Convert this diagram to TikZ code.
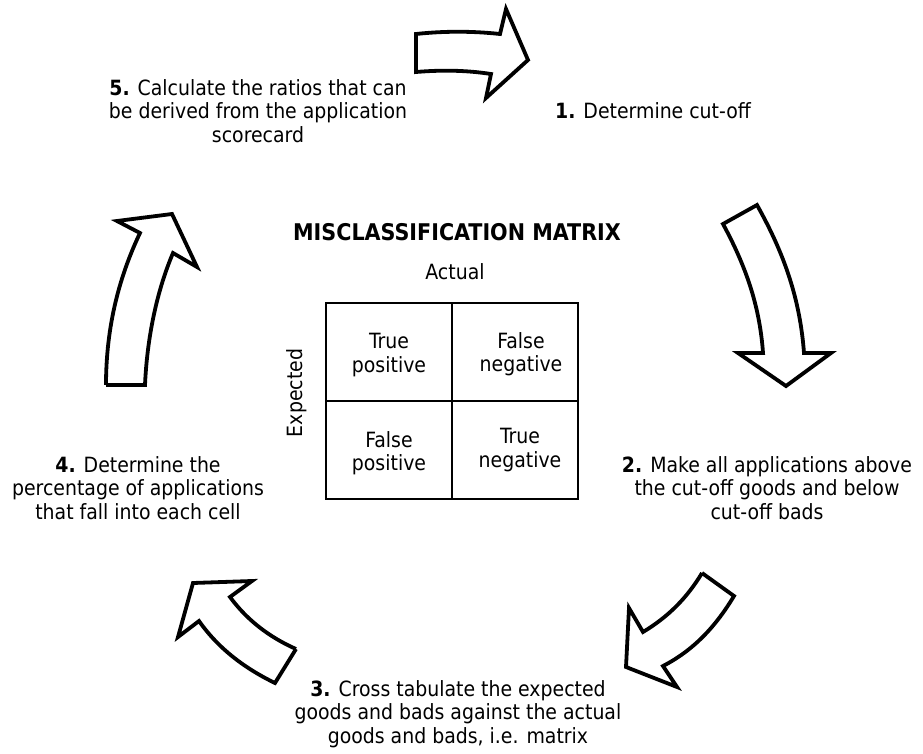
\documentclass[tikz,border=0pt]{standalone}
\usepackage{fontspec}
\setmainfont{DejaVu Sans Condensed}
\begin{document}
\begin{tikzpicture}[x=1pt,y=-1pt,
  txt/.style={align=center,inner sep=0pt,font=\fontsize{21}{23.5}\selectfont},
  cell/.style={align=center,inner sep=0pt,font=\fontsize{21}{23.5}\selectfont},
  bigarrow/.style={draw=black,fill=white,line width=3.8pt,line join=miter,miter limit=10},
  grid/.style={draw=black,line width=1.8pt}]
\useasboundingbox (0,0) rectangle (923,754);

% ---- cycle arrows ----
% step 1 -> right
\draw[bigarrow] (416,34) .. controls (444,31) and (472,31) .. (500,34)
  -- (506,9) -- (528,60) -- (486,98) -- (491,74)
  .. controls (465,70) and (440,70) .. (416,72) -- cycle;
% step 2 -> down
\draw[bigarrow] (757,205) .. controls (785,255) and (800,300) .. (804,353)
  -- (831,353) -- (786,386) -- (738,353) -- (763,353)
  .. controls (760,310) and (748,270) .. (723,224) -- cycle;
% step 3 -> down-left
\draw[bigarrow] (702,573) -- (734,596) .. controls (716,626) and (694,650) .. (663,666)
  -- (677,687) -- (626,667) -- (629,608) -- (643,632)
  .. controls (668,617) and (687,598) .. (702,573);
% step 4 -> up-left
\draw[bigarrow] (296,649) -- (275,683) .. controls (244,668) and (218,648) .. (199,621)
  -- (178,637) -- (193,583) -- (252,581) -- (230,597)
  .. controls (247,620) and (269,637) .. (296,649);
% step 5 -> up
\draw[bigarrow] (106,385) -- (145,385) .. controls (147,340) and (156,293) .. (173,253)
  -- (197,267) -- (172,214) -- (117,221) -- (140,233)
  .. controls (120,275) and (106,325) .. (106,385);

% ---- step labels ----
\node[txt] (s1) at (653,111) {\textbf{1.} Determine cut-off};
\node[txt] (s2) at (767,488) {\textbf{2.} Make all applications above\\the cut-off goods and below\\cut-off bads};
\node[txt] (s3) at (458,714) {\textbf{3.} Cross tabulate the expected\\goods and bads against the actual\\goods and bads, i.e. matrix};
\node[txt] (s4) at (138,488) {\textbf{4.} Determine the\\percentage of applications\\that fall into each cell};
\node[txt] (s5) at (258,111) {\textbf{5.} Calculate the ratios that can\\be derived from the application\\scorecard};

% ---- misclassification matrix ----
\node[txt,font=\bfseries\fontsize{23}{26}\selectfont] (title) at (457,232) {MISCLASSIFICATION MATRIX};
\node[txt] (actual) at (455,272) {Actual};
\node[txt,rotate=90] (expected) at (297,393) {Expected};
\draw[grid] (326,303) rectangle (578,499);
\draw[grid] (452,303) -- (452,499);
\draw[grid] (326,401) -- (578,401);
\node[cell] (tp) at (389,355) {True\\positive};
\node[cell] (fn) at (521,354) {False\\negative};
\node[cell] (fp) at (389,453) {False\\positive};
\node[cell] (tn) at (520,450) {True\\negative};
\end{tikzpicture}
\end{document}
